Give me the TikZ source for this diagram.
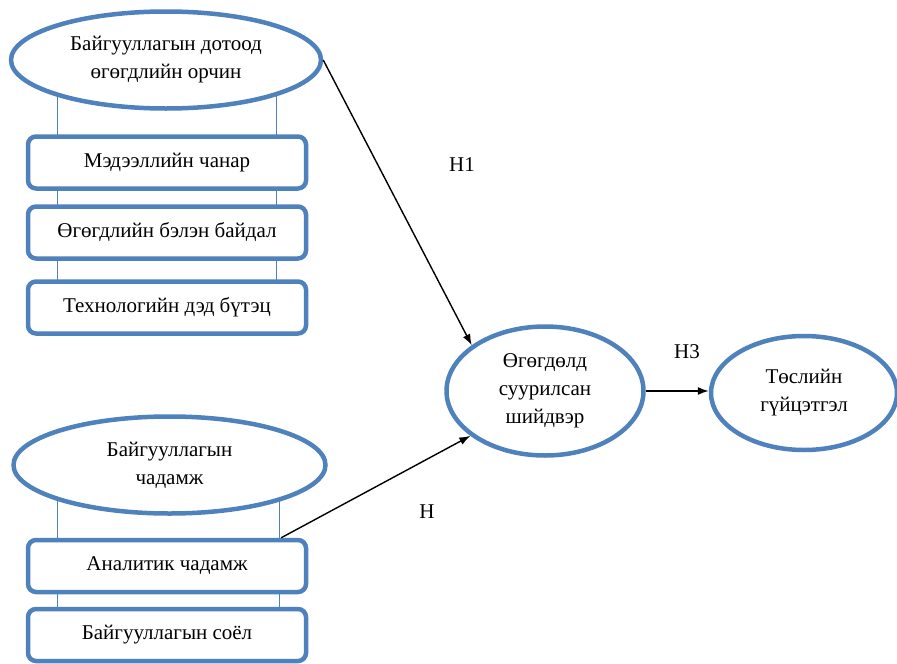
\documentclass[tikz,border=0pt]{standalone}
\usepackage{fontspec}
\setmainfont{Liberation Serif}
\usetikzlibrary{arrows.meta,calc,positioning,shapes.geometric,backgrounds}
\definecolor{bl}{HTML}{4F81BD}

\begin{document}
\begin{tikzpicture}[x=1pt,y=-1pt,font=\fontsize{21}{28}\selectfont,>={Latex[length=11pt,width=8pt]},
  oval/.style={ellipse,draw=bl,line width=4.5pt,fill=white,align=center,inner sep=0pt},
  factor/.style={rectangle,rounded corners=8pt,draw=bl,line width=4.5pt,fill=white,
    minimum width=278pt,minimum height=52pt,inner sep=0pt},
  link/.style={draw=bl,line width=1.2pt},
  hyp/.style={->,line width=1.4pt}]
  \useasboundingbox (0,0) rectangle (897,664);
  % left: internal data environment
  \node[oval,minimum width=310pt,minimum height=97pt] (env) at (166,60)
    {Байгууллагын дотоод\\өгөгдлийн орчин};
  \node[factor] (qual) at (167,162.5) {Мэдээллийн чанар};
  \node[factor] (avail) at (167,232.5) {Өгөгдлийн бэлэн байдал};
  \node[factor] (tech) at (167,307.5) {Технологийн дэд бүтэц};
  % left: organisational capability
  \node[oval,minimum width=312pt,minimum height=97pt] (cap) at (169.5,465)
    {Байгууллагын\\чадамж};
  \node[factor] (anal) at (167,566) {Аналитик чадамж};
  \node[factor] (cult) at (167,635) {Байгууллагын соёл};
  % right side
  \node[oval,minimum width=197pt,minimum height=129pt] (dec) at (545,391)
    {Өгөгдөлд\\суурилсан\\шийдвэр};
  \node[oval,minimum width=186pt,minimum height=114pt] (perf) at (804,393)
    {Төслийн\\гүйцэтгэл};
  \begin{scope}[on background layer]
    \draw[link] ($(env.center -| qual.west)+(32,0)$) -- ($(tech.center -| tech.west)+(32,0)$);
    \draw[link] ($(env.center -| qual.east)+(-32,0)$) -- ($(tech.center -| tech.east)+(-32,0)$);
    \draw[link] ($(cap.center -| anal.west)+(32,0)$) -- ($(cult.center -| cult.west)+(32,0)$);
    \draw[link] ($(cap.center -| anal.east)+(-29,0)$) -- ($(cult.center -| cult.east)+(-29,0)$);
  \end{scope}
  \coordinate (capr) at ($(anal.north east)+(-27,0)$);
  % hypotheses
  \draw[hyp] (env.east) -- (dec.148);
  \draw[hyp] (capr) -- (dec.211);
  \draw[hyp] (dec.east) -- (dec.east -| perf.west);
  \node (h1) at (462,165) {H1};
  \node (h2) at (427,512) {H};
  \node (h3) at (687,352) {H3};
\end{tikzpicture}
\end{document}
